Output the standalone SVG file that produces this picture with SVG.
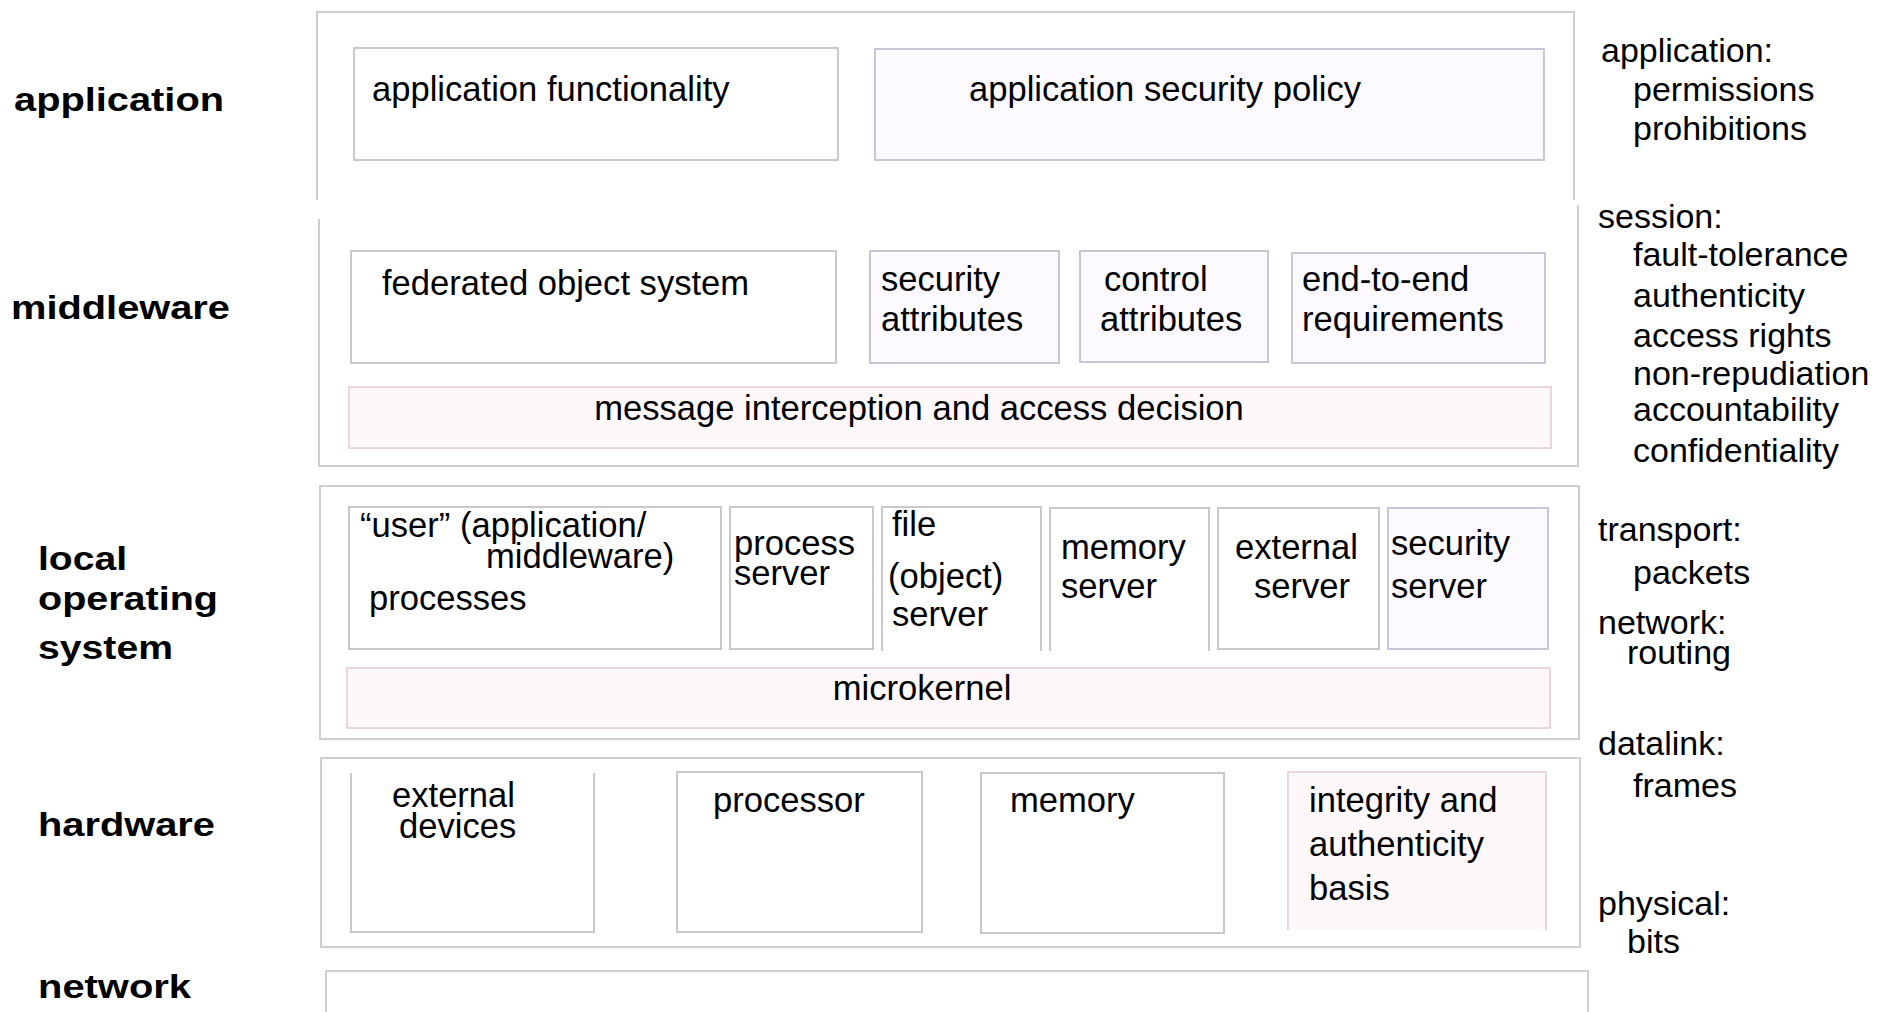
<svg xmlns="http://www.w3.org/2000/svg" width="1880" height="1012" viewBox="0 0 1880 1012">
  <style>
    .frame { fill: none; stroke: #cfcfcf; stroke-width: 2; }
    .box { fill: #ffffff; stroke: #c9c9c9; stroke-width: 2; }
    .sec { fill: #fcfafe; stroke: #c6c6d4; stroke-width: 2; }
    .pink { fill: #fff8fa; stroke: #ecd6da; stroke-width: 2; }
    .edge { fill: none; stroke: #c9c9c9; stroke-width: 2; }
    text { font-family: "Liberation Sans", Arial, Helvetica, sans-serif; fill: #000; }
    .t { font-size: 34.6px; }
    .side { font-size: 34px; }
    .layer { font-size: 34px; font-weight: bold; }
  </style>

  <rect width="1880" height="1012" fill="#ffffff"/>

  <!-- layer names -->
  <g id="layer-labels">
    <text class="layer" x="14" y="111" textLength="210" lengthAdjust="spacingAndGlyphs">application</text>
    <text class="layer" x="11" y="319" textLength="219" lengthAdjust="spacingAndGlyphs">middleware</text>
    <text class="layer" x="38" y="570" textLength="89" lengthAdjust="spacingAndGlyphs">local</text>
    <text class="layer" x="38" y="610" textLength="180" lengthAdjust="spacingAndGlyphs">operating</text>
    <text class="layer" x="38" y="659" textLength="135" lengthAdjust="spacingAndGlyphs">system</text>
    <text class="layer" x="38" y="836" textLength="177" lengthAdjust="spacingAndGlyphs">hardware</text>
    <text class="layer" x="38" y="998" textLength="153" lengthAdjust="spacingAndGlyphs">network</text>
  </g>

  <!-- application layer -->
  <g id="application-layer">
    <path class="frame" d="M317,200 V12 H1574 V200"/>
  </g>
  <g id="app-functionality">
    <rect class="box" x="354" y="48" width="484" height="112"/>
    <text class="t" x="372" y="101">application functionality</text>
  </g>
  <g id="app-security-policy">
    <rect class="sec" x="875" y="49" width="669" height="111"/>
    <text class="t" x="969" y="101">application security policy</text>
  </g>

  <!-- middleware layer -->
  <g id="middleware-layer">
    <path class="frame" d="M319,219 V466 H1578 V205"/>
  </g>
  <g id="federated-object-system">
    <rect class="box" x="351" y="251" width="485" height="112"/>
    <text class="t" x="382" y="295">federated object system</text>
  </g>
  <g id="security-attributes">
    <rect class="sec" x="870" y="251" width="189" height="112"/>
    <text class="t" x="881" y="291">security</text>
    <text class="t" x="881" y="331">attributes</text>
  </g>
  <g id="control-attributes">
    <rect class="sec" x="1080" y="251" width="188" height="111"/>
    <text class="t" x="1104" y="291">control</text>
    <text class="t" x="1100" y="331">attributes</text>
  </g>
  <g id="end-to-end-requirements">
    <rect class="sec" x="1292" y="253" width="253" height="110"/>
    <text class="t" x="1302" y="291">end-to-end</text>
    <text class="t" x="1302" y="331">requirements</text>
  </g>
  <g id="message-interception">
    <rect class="pink" x="349" y="387" width="1202" height="61"/>
    <text class="t" x="919" y="420" text-anchor="middle">message interception and access decision</text>
  </g>

  <!-- local operating system layer -->
  <g id="os-layer">
    <rect class="frame" x="320" y="486" width="1259" height="253"/>
  </g>
  <g id="user-processes">
    <rect class="box" x="349" y="507" width="372" height="142"/>
    <text class="t" x="360" y="537">“user” (application/</text>
    <text class="t" x="486" y="568">middleware)</text>
    <text class="t" x="369" y="610">processes</text>
  </g>
  <g id="process-server">
    <rect class="box" x="730" y="507" width="143" height="142"/>
    <text class="t" x="734" y="555">process</text>
    <text class="t" x="734" y="585">server</text>
  </g>
  <g id="file-server">
    <path class="edge" d="M882,651 V507 H1041 V651"/>
    <text class="t" x="892" y="536">file</text>
    <text class="t" x="888" y="588">(object)</text>
    <text class="t" x="892" y="626">server</text>
  </g>
  <g id="memory-server">
    <path class="edge" d="M1050,651 V508 H1209 V651"/>
    <text class="t" x="1061" y="559">memory</text>
    <text class="t" x="1061" y="598">server</text>
  </g>
  <g id="external-server">
    <rect class="box" x="1218" y="508" width="161" height="141"/>
    <text class="t" x="1235" y="559">external</text>
    <text class="t" x="1254" y="598">server</text>
  </g>
  <g id="security-server">
    <rect class="sec" x="1388" y="508" width="160" height="141"/>
    <text class="t" x="1391" y="555">security</text>
    <text class="t" x="1391" y="598">server</text>
  </g>
  <g id="microkernel">
    <rect class="pink" x="347" y="668" width="1203" height="60"/>
    <text class="t" x="922" y="700" text-anchor="middle">microkernel</text>
  </g>

  <!-- hardware layer -->
  <g id="hardware-layer">
    <rect class="frame" x="321" y="758" width="1259" height="189"/>
  </g>
  <g id="external-devices">
    <path class="edge" d="M351,773 V932 H594 V773"/>
    <text class="t" x="392" y="807">external</text>
    <text class="t" x="399" y="838">devices</text>
  </g>
  <g id="processor">
    <rect class="box" x="677" y="772" width="245" height="160"/>
    <text class="t" x="713" y="812">processor</text>
  </g>
  <g id="memory">
    <rect class="box" x="981" y="773" width="243" height="160"/>
    <text class="t" x="1010" y="812">memory</text>
  </g>
  <g id="integrity-basis">
    <rect x="1288" y="772" width="258" height="158" fill="#fff8fa"/>
    <path class="pink" style="fill:none" d="M1288,930 V772 H1546 V930"/>
    <text class="t" x="1309" y="812">integrity and</text>
    <text class="t" x="1309" y="856">authenticity</text>
    <text class="t" x="1309" y="900">basis</text>
  </g>

  <!-- network layer -->
  <g id="network-layer">
    <path class="frame" d="M326,1014 V971 H1588 V1014"/>
  </g>

  <!-- protocol-level properties -->
  <g id="protocol-notes">
    <text class="side" x="1601" y="62">application:</text>
    <text class="side" x="1633" y="101">permissions</text>
    <text class="side" x="1633" y="140">prohibitions</text>
    <text class="side" x="1598" y="228">session:</text>
    <text class="side" x="1633" y="266">fault-tolerance</text>
    <text class="side" x="1633" y="307">authenticity</text>
    <text class="side" x="1633" y="347">access rights</text>
    <text class="side" x="1633" y="385">non-repudiation</text>
    <text class="side" x="1633" y="421">accountability</text>
    <text class="side" x="1633" y="462">confidentiality</text>
    <text class="side" x="1598" y="541">transport:</text>
    <text class="side" x="1633" y="584">packets</text>
    <text class="side" x="1598" y="634">network:</text>
    <text class="side" x="1627" y="664">routing</text>
    <text class="side" x="1598" y="755">datalink:</text>
    <text class="side" x="1633" y="797">frames</text>
    <text class="side" x="1598" y="915">physical:</text>
    <text class="side" x="1627" y="953">bits</text>
  </g>

  <g id="connectors"/>
</svg>
